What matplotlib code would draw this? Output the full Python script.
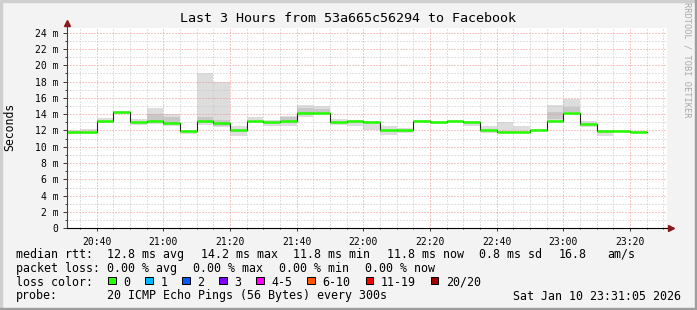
import numpy as np
import matplotlib
matplotlib.use('Agg')
import matplotlib.pyplot as plt
from matplotlib.patches import Rectangle

# canvas size in pixels
W, H = 697, 310

# data: 5 minute bins, first bin starts at 20:30
bin_start = '20:30'
bin_len = 5
median_ms = [11.8, 11.8, 13.2, 14.3, 13.0, 13.2, 12.9, 11.9, 13.2, 12.95,
             12.0, 13.2, 13.0, 13.2, 14.2, 14.2, 13.0, 13.2, 13.0, 12.0,
             12.0, 13.2, 13.0, 13.2, 13.0, 12.0, 11.85, 11.85, 12.0, 13.2,
             14.2, 12.85, 11.95, 11.95, 11.85]
# outer smoke (lightest) per bin
smoke_lo = [11.6, 11.6, 12.9, 14.0, 12.7, 12.8, 12.6, 11.6, 12.7, 12.4,
            11.3, 12.9, 12.6, 12.5, 13.7, 14.1, 12.7, 12.6, 12.1, 11.5,
            11.7, 13.0, 12.8, 13.0, 12.6, 11.7, 11.7, 11.7, 11.9, 13.0,
            14.1, 12.4, 11.3, 11.8, 11.8]
smoke_hi = [12.0, 12.2, 13.5, 14.4, 13.4, 14.8, 14.0, 12.0, 19.1, 17.9,
            12.6, 13.6, 13.3, 13.8, 15.1, 15.0, 13.4, 13.3, 13.1, 12.5,
            12.3, 13.3, 13.1, 13.3, 13.1, 12.5, 13.0, 12.5, 12.2, 15.1,
            15.8, 13.1, 12.0, 12.0, 11.9]
# inner smoke (darker) per bin
core_lo = [11.8, 11.8, 13.2, 14.3, 13.0, 13.2, 12.8, 11.9, 12.9, 12.6,
           12.0, 13.2, 13.0, 13.2, 14.0, 14.2, 13.0, 13.2, 13.0, 12.0,
           12.0, 13.2, 13.0, 13.2, 13.0, 12.0, 11.85, 11.85, 12.0, 13.4,
           14.3, 12.85, 11.95, 11.95, 11.85]
core_hi = [11.8, 11.8, 13.2, 14.3, 13.0, 14.0, 13.6, 11.9, 13.6, 13.3,
           12.0, 13.2, 13.0, 13.6, 14.8, 14.6, 13.0, 13.2, 13.0, 12.0,
           12.0, 13.2, 13.0, 13.2, 13.0, 12.0, 11.85, 11.85, 12.0, 14.3,
           14.9, 12.85, 11.95, 11.95, 11.85]

view_start = '20:31:05'
view_end = '23:31:05'
xtick_labels = ['20:40', '21:00', '21:20', '21:40', '22:00', '22:20',
                '22:40', '23:00', '23:20']
ytick_values = [0, 2, 4, 6, 8, 10, 12, 14, 16, 18, 20, 22, 24]
ytick_labels = ['0'] + [f'{v} m' for v in ytick_values[1:]]

loss_labels = ['0', '1', '2', '3', '4-5', '6-10', '11-19', '20/20']
loss_colors = ['#26ff00', '#00b8ff', '#0059ff', '#7e00ff', '#ff00ff',
               '#ff5500', '#ff0000', '#a10000']

title = 'Last 3 Hours from 53a665c56294 to Facebook'
rtt_text = ['12.8 ms avg', '14.2 ms max', '11.8 ms min', '11.8 ms now',
            '0.8 ms sd', '16.8', 'am/s']
loss_text = ['0.00 % avg', '0.00 % max', '0.00 % min', '0.00 % now']
probe_text = '20 ICMP Echo Pings (56 Bytes) every 300s'
stamp_text = 'Sat Jan 10 23:31:05 2026'

MONO = 'DejaVu Sans Mono'


def minutes(s):
    parts = [int(p) for p in s.split(':')]
    while len(parts) < 3:
        parts.append(0)
    return parts[0] * 60 + parts[1] + parts[2] / 60


def px(x, y):
    # pixel position (top-left origin) -> figure fraction
    return x / W, 1 - y / H


fig = plt.figure(figsize=(W / 100, H / 100), dpi=100, facecolor='#f3f3f3')

# 3d frame
fig.patches.append(Rectangle((0, 1 - 2 / H), 1, 2 / H, transform=fig.transFigure, color='#cfcfcf'))
fig.patches.append(Rectangle((0, 0), 2 / W, 1, transform=fig.transFigure, color='#cfcfcf'))
fig.patches.append(Rectangle((0, 0), 1, 2 / H, transform=fig.transFigure, color='#9e9e9e'))
fig.patches.append(Rectangle((1 - 2 / W, 0), 2 / W, 1, transform=fig.transFigure, color='#9e9e9e'))

x0, y0 = px(67, 228.3)
ax = fig.add_axes([x0, y0, 600 / W, 200.6 / H])
ax.set_facecolor('white')

t0 = minutes(bin_start)
edges = t0 + bin_len * np.arange(len(median_ms) + 1)
med = np.array(median_ms)


def ext(a):
    return np.r_[a, a[-1]]


ax.fill_between(edges, ext(smoke_lo), ext(smoke_hi), step='post', color='#dddddd', lw=0, zorder=1)
ax.fill_between(edges, ext(core_lo), ext(core_hi), step='post', color='#c8c8c8', lw=0, zorder=1.1)
ax.step(edges, ext(med), where='post', color='#202020', lw=0.8, zorder=3)
ax.hlines(med, edges[:-1], edges[1:], color=loss_colors[0], lw=1.8, zorder=4)

ax.set_xlim(minutes(view_start), minutes(view_end))
ax.set_ylim(0, 24.6)

xt = [minutes(s) for s in xtick_labels]
ax.set_xticks(xt)
ax.set_xticklabels(xtick_labels, family=MONO, fontsize=7)
ax.set_xticks(np.arange(minutes('20:35'), minutes(view_end), 5), minor=True)
ax.set_yticks(ytick_values)
ax.set_yticklabels(ytick_labels, family=MONO, fontsize=7)
ax.set_yticks(np.arange(1, 25, 1), minor=True)

ax.set_axisbelow(False)
ax.grid(which='minor', color='#c4c4c4', linestyle=(0, (1, 2)), lw=0.72, zorder=2)
ax.grid(which='major', color='#f09090', linestyle=(0, (1, 2)), lw=0.72, zorder=2)

ax.tick_params(which='major', axis='y', length=3, width=0.72, color='#404040', pad=3)
ax.tick_params(which='minor', axis='y', length=1.5, width=0.72, color='#404040')
ax.tick_params(which='major', axis='x', length=2, width=0.72, color='#404040', pad=4)
ax.tick_params(which='minor', axis='x', length=1, width=0.72, color='#404040')

for s in ax.spines.values():
    s.set_visible(False)
ax.plot([0, 0], [0, 1.02], transform=ax.transAxes, color='#404040', lw=0.8, clip_on=False, zorder=5)
ax.plot([0, 1.006], [0, 0], transform=ax.transAxes, color='black', lw=0.8, clip_on=False, zorder=5)
ax.plot([0], [1.022], marker='^', ms=5, color='#8b1a1a', transform=ax.transAxes, clip_on=False, zorder=6)
ax.plot([1.006], [0], marker='>', ms=5, color='#8b1a1a', transform=ax.transAxes, clip_on=False, zorder=6)

# title, axis label, watermark
fig.text(*px(348, 19), title, family=MONO, fontsize=9.6, ha='center', va='center')
fig.text(*px(10, 127), 'Seconds', family=MONO, fontsize=8.3, rotation=90, ha='center', va='center')
fig.text(*px(687, 60), 'RRDTOOL / TOBI OETIKER', family=MONO, fontsize=6.2, rotation=270,
         ha='center', va='center', color='#a8a8a8')

# legend area
fs = 8.4
rows = [254.3, 268.3, 282.3, 296.0]
fig.text(*px(16, rows[0]), 'median rtt:', family=MONO, fontsize=fs, va='center')
for xp, t in zip([107.3, 200.7, 293.3, 386.7, 479.3, 558.3, 607.7], rtt_text):
    fig.text(*px(xp, rows[0]), t, family=MONO, fontsize=fs, va='center')

fig.text(*px(16, rows[1]), 'packet loss:', family=MONO, fontsize=fs, va='center')
for xp, t in zip([107.3, 193.3, 279.3, 365.0], loss_text):
    fig.text(*px(xp, rows[1]), t, family=MONO, fontsize=fs, va='center')

fig.text(*px(16, rows[2]), 'loss color:', family=MONO, fontsize=fs, va='center')
for xp, lab, col in zip([108.3, 145.3, 182.3, 219.3, 256.3, 307.3, 365.7, 430.7], loss_labels, loss_colors):
    bx, by = px(xp, 284.3)
    fig.patches.append(Rectangle((bx, by), 7.5 / W, 7.5 / H, transform=fig.transFigure,
                                 facecolor=col, edgecolor='black', lw=0.72))
    fig.text(*px(xp + 15, rows[2]), lab, family=MONO, fontsize=fs, va='center')

fig.text(*px(16, rows[3]), 'probe:', family=MONO, fontsize=fs, va='center')
fig.text(*px(107.3, rows[3]), probe_text, family=MONO, fontsize=fs, va='center')
fig.text(*px(513.3, rows[3]), stamp_text, family=MONO, fontsize=fs, va='center')

fig.savefig('out.png', dpi=100, facecolor=fig.get_facecolor())
